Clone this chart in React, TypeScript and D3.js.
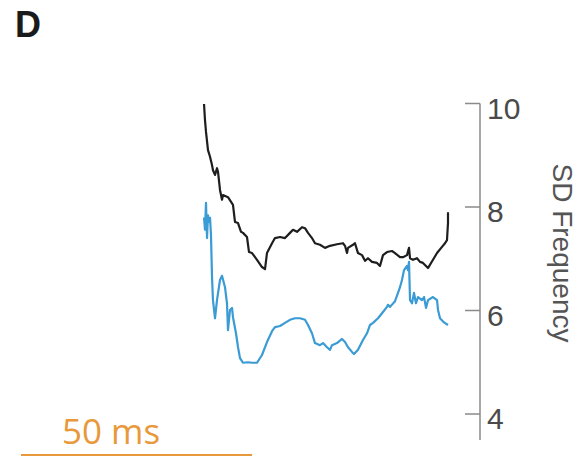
import React from "react";
import * as d3 from "d3";

// time (ms), SD frequency
const blackT = [0.22,0.43,0.65,1.08,1.52,1.95,2.16,2.6,3.03,3.25,3.68,4.11,4.33,5.41,6.49,6.93,7.58,8.23,8.66,9.52,9.96,10.61,11.69,12.77,13.42,13.85,14.94,15.58,16.67,17.75,18.83,19.48,20.35,21.43,22.08,22.73,23.59,24.24,25.32,26.41,27.49,29.0,30.3,30.74,31.17,31.39,32.47,32.9,33.55,34.42,35.06,35.71,36.58,37.66,38.31,38.96,39.83,40.91,41.56,42.64,43.29,44.16,44.59,44.81,45.45,46.32,46.97,47.62,48.7,49.78,50.65,51.73,52.38,52.81,53.03,53.03];
const blackF = [9.99,9.68,9.45,9.1,8.97,8.81,8.71,8.62,8.75,8.68,8.33,8.14,8.23,8.19,8.04,7.71,7.69,7.52,7.5,7.42,7.13,7.11,6.98,6.84,6.8,7.11,7.3,7.4,7.42,7.4,7.5,7.56,7.52,7.61,7.59,7.5,7.4,7.3,7.27,7.21,7.25,7.28,7.3,7.25,7.11,7.21,7.27,7.3,7.11,7.07,6.96,7.01,6.94,6.92,6.86,7.07,7.13,7.15,7.11,7.03,7.03,7.07,7.21,7.01,6.98,7.01,6.94,6.92,6.82,6.98,7.11,7.23,7.3,7.36,7.69,7.9];

const blueT = [0.22,0.43,0.65,0.87,1.08,1.3,1.52,1.73,1.95,2.16,2.6,3.03,3.68,4.11,4.76,5.19,5.41,5.84,6.28,6.49,7.14,7.58,8.01,8.66,9.74,10.61,11.69,12.77,13.85,14.94,15.58,16.67,17.75,18.83,19.91,21.0,22.08,22.73,23.59,24.24,25.32,25.97,26.84,27.49,27.92,29.0,30.09,30.74,31.39,32.25,32.68,33.55,34.63,35.5,36.15,36.8,37.88,38.96,39.83,40.04,40.48,41.56,42.21,42.64,43.07,43.51,44.16,44.37,44.59,44.81,45.24,45.67,46.1,46.54,47.4,47.84,48.27,48.7,49.78,50.65,50.87,51.3,52.16,53.03];
const blueF = [7.8,7.56,8.08,7.4,7.84,7.71,7.79,7.46,6.65,6.2,5.85,6.2,6.59,6.67,6.45,6.14,5.62,6.01,6.05,5.87,5.56,5.29,5.08,4.99,5.0,4.99,4.99,5.14,5.39,5.6,5.68,5.7,5.76,5.82,5.85,5.85,5.82,5.72,5.56,5.37,5.33,5.37,5.29,5.24,5.33,5.37,5.45,5.39,5.29,5.2,5.16,5.24,5.43,5.56,5.72,5.76,5.85,5.97,6.07,6.11,6.07,6.18,6.34,6.45,6.59,6.78,6.86,6.78,6.94,6.2,6.14,6.34,6.14,6.26,6.2,6.26,6.05,6.2,6.26,6.2,6.01,5.85,5.77,5.72];

const yTicks = [4, 6, 8, 10];
const yLabel = "SD Frequency";
const panelLabel = "D";
const scaleBarMs = 50;
const scaleBarLabel = "50 ms";

export default function App() {
  const W = 579, H = 459;
  const x = d3.scaleLinear().domain([0, 50]).range([203, 434]);
  const y = d3.scaleLinear().domain([4, 10]).range([414, 103.5]);
  const line = d3.line<[number, number]>().x(d => x(d[0])).y(d => y(d[1])).curve(d3.curveLinear);
  const black = blackT.map((t, i) => [t, blackF[i]] as [number, number]);
  const blue = blueT.map((t, i) => [t, blueF[i]] as [number, number]);
  const axisX = 480;
  const barLen = x(scaleBarMs) - x(0);
  const barX0 = 21;
  const font = "'Liberation Sans', Arial, Helvetica, sans-serif";
  return (
    <svg width={W} height={H} style={{ position: "fixed", left: 0, top: 0, background: "#fff" }}>
      <text x={15} y={37} fontFamily={font} fontWeight="bold" fontSize={36} fill="#1a1a1a">{panelLabel}</text>
      <path d={line(black) || ""} fill="none" stroke="#1e1e1e" strokeWidth={2.2} strokeLinejoin="round" />
      <path d={line(blue) || ""} fill="none" stroke="#3a9bd5" strokeWidth={2.2} strokeLinejoin="round" />
      <line x1={axisX} x2={axisX} y1={y(10)} y2={y(3.5)} stroke="#8a8a8a" strokeWidth={1.5} />
      {yTicks.map(v => (
        <g key={v}>
          <line x1={axisX - 15} x2={axisX} y1={y(v)} y2={y(v)} stroke="#8a8a8a" strokeWidth={1.5} />
          <text x={487} y={y(v) + 15} fontFamily={font} fontSize={30} fill="#4a4a4a">{v}</text>
        </g>
      ))}
      <text transform={`translate(553, 253) rotate(90)`} textAnchor="middle" fontFamily={font} fontSize={28} fill="#555">{yLabel}</text>
      <line x1={barX0} x2={barX0 + barLen} y1={455} y2={455} stroke="#E8993C" strokeWidth={2} />
      <text x={62} y={444} fontFamily="'Open Sans', sans-serif" fontSize={35} fill="#E8993C">{scaleBarLabel}</text>
    </svg>
  );
}
